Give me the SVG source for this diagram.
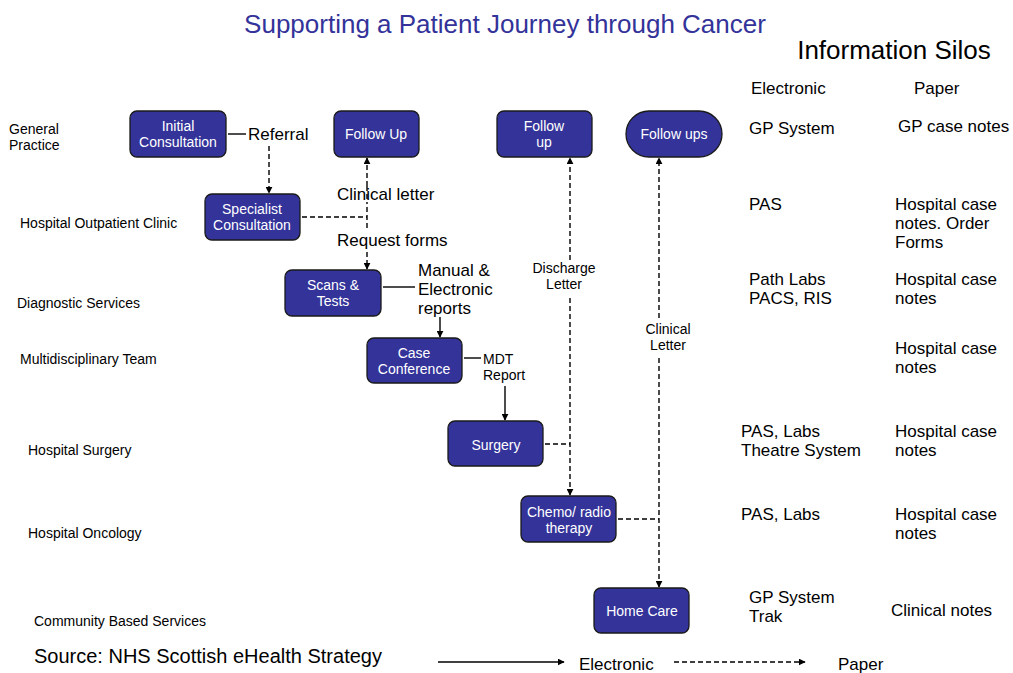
<svg xmlns="http://www.w3.org/2000/svg" width="1013" height="673" viewBox="0 0 1013 673">
<style>
text{font-family:"Liberation Sans",Arial,sans-serif;fill:#000}
.node rect{fill:#333399;stroke:#1a1a1a;stroke-width:1.3}
.nt{fill:#fff;font-size:14px;text-anchor:middle}
.lane{font-size:14px}
.info{font-size:17px}
.cl{font-size:17px}
.sm{font-size:14px}
.solid{stroke:#000;stroke-width:1.4;fill:none}
.dash{stroke:#000;stroke-width:1.4;fill:none;stroke-dasharray:5,3}
</style>
<defs>
<marker id="ah" viewBox="0 0 10 10" refX="9" refY="5" markerWidth="7" markerHeight="7" orient="auto" markerUnits="userSpaceOnUse"><path d="M0,0 L10,5 L0,10 z" fill="#000"/></marker>
</defs>
<rect width="1013" height="673" fill="#fff"/>
<text x="505" y="33" font-size="26" text-anchor="middle" style="fill:#333399">Supporting a Patient Journey through Cancer</text>
<text x="894" y="59" font-size="26" text-anchor="middle">Information Silos</text>
<g id="lanes" class="lane">
<text x="9" y="134">General</text><text x="9" y="150">Practice</text>
<text x="20" y="228">Hospital Outpatient Clinic</text>
<text x="17" y="308">Diagnostic Services</text>
<text x="20" y="364">Multidisciplinary Team</text>
<text x="28" y="455">Hospital Surgery</text>
<text x="28" y="538">Hospital Oncology</text>
<text x="34" y="626">Community Based Services</text>
</g>
<g id="silos" class="info">
<text x="751" y="94">Electronic</text><text x="914" y="94">Paper</text>
<text x="749" y="134">GP System</text><text x="898" y="132">GP case notes</text>
<text x="749" y="210">PAS</text>
<text x="895" y="210">Hospital case</text><text x="895" y="229">notes. Order</text><text x="895" y="248">Forms</text>
<text x="749" y="285">Path Labs</text><text x="749" y="304">PACS, RIS</text>
<text x="895" y="285">Hospital case</text><text x="895" y="304">notes</text>
<text x="895" y="354">Hospital case</text><text x="895" y="373">notes</text>
<text x="741" y="437">PAS, Labs</text><text x="741" y="456">Theatre System</text>
<text x="895" y="437">Hospital case</text><text x="895" y="456">notes</text>
<text x="741" y="520">PAS, Labs</text>
<text x="895" y="520">Hospital case</text><text x="895" y="539">notes</text>
<text x="749" y="603">GP System</text><text x="749" y="622">Trak</text>
<text x="891" y="616">Clinical notes</text>
</g>
<g id="connectors">
<path class="solid" d="M228,134 H246"/>
<path class="dash" d="M269,146 V193" marker-end="url(#ah)"/>
<path class="dash" d="M302,217 H367"/>
<path class="dash" d="M367,186 V158" marker-end="url(#ah)"/>
<path class="dash" d="M367,186 V204"/>
<path class="dash" d="M367,207 V229"/>
<path class="dash" d="M367,252 V269" marker-end="url(#ah)"/>
<path class="solid" d="M383,287 H415"/>
<path class="solid" d="M440,317 V337" marker-end="url(#ah)"/>
<path class="solid" d="M464,358 H481"/>
<path class="solid" d="M505,386 V420" marker-end="url(#ah)"/>
<path class="dash" d="M545,444 H570"/>
<path class="dash" d="M570,260 V158" marker-end="url(#ah)"/>
<path class="dash" d="M570,298 V495" marker-end="url(#ah)"/>
<path class="dash" d="M618,519 H659"/>
<path class="dash" d="M659,318 V158" marker-end="url(#ah)"/>
<path class="dash" d="M659,358 V587" marker-end="url(#ah)"/>
<path class="solid" d="M438,662 H564" marker-end="url(#ah)"/>
<path class="dash" d="M674,662 H805" marker-end="url(#ah)"/>
</g>
<g id="labels">
<text class="cl" x="248" y="140">Referral</text>
<text class="cl" x="337" y="200">Clinical letter</text>
<text class="cl" x="337" y="246">Request forms</text>
<text class="cl" x="418" y="276">Manual &amp;</text>
<text class="cl" x="418" y="295">Electronic</text>
<text class="cl" x="418" y="314">reports</text>
<text class="sm" x="483" y="364">MDT</text>
<text class="sm" x="483" y="380">Report</text>
<text class="sm" x="564" y="273" text-anchor="middle">Discharge</text>
<text class="sm" x="564" y="289" text-anchor="middle">Letter</text>
<text class="sm" x="668" y="334" text-anchor="middle">Clinical</text>
<text class="sm" x="668" y="350" text-anchor="middle">Letter</text>
<text x="34" y="663" font-size="20">Source: NHS Scottish eHealth Strategy</text>
<text class="info" x="579" y="670">Electronic</text>
<text class="info" x="838" y="670">Paper</text>
</g>
<g id="n-initial" class="node"><rect x="130" y="111" width="96" height="46" rx="7"/><text class="nt" x="178" y="131">Initial</text><text class="nt" x="178" y="147">Consultation</text></g>
<g id="n-followup1" class="node"><rect x="334" y="111" width="85" height="46" rx="7"/><text class="nt" x="376" y="139">Follow Up</text></g>
<g id="n-followup2" class="node"><rect x="497" y="111" width="95" height="46" rx="7"/><text class="nt" x="544" y="131">Follow</text><text class="nt" x="544" y="147">up</text></g>
<g id="n-followups" class="node"><rect x="626" y="111" width="96" height="46" rx="23"/><text class="nt" x="674" y="139">Follow ups</text></g>
<g id="n-specialist" class="node"><rect x="205" y="194" width="95" height="46" rx="7"/><text class="nt" x="252" y="214">Specialist</text><text class="nt" x="252" y="230">Consultation</text></g>
<g id="n-scans" class="node"><rect x="285" y="270" width="96" height="46" rx="7"/><text class="nt" x="333" y="290">Scans &amp;</text><text class="nt" x="333" y="306">Tests</text></g>
<g id="n-case" class="node"><rect x="367" y="338" width="95" height="45" rx="7"/><text class="nt" x="414" y="358">Case</text><text class="nt" x="414" y="374">Conference</text></g>
<g id="n-surgery" class="node"><rect x="448" y="421" width="95" height="45" rx="7"/><text class="nt" x="496" y="450">Surgery</text></g>
<g id="n-chemo" class="node"><rect x="521" y="496" width="95" height="46" rx="7"/><text class="nt" x="569" y="517">Chemo/ radio</text><text class="nt" x="569" y="533">therapy</text></g>
<g id="n-home" class="node"><rect x="594" y="588" width="95" height="45" rx="7"/><text class="nt" x="642" y="616">Home Care</text></g>
</svg>
